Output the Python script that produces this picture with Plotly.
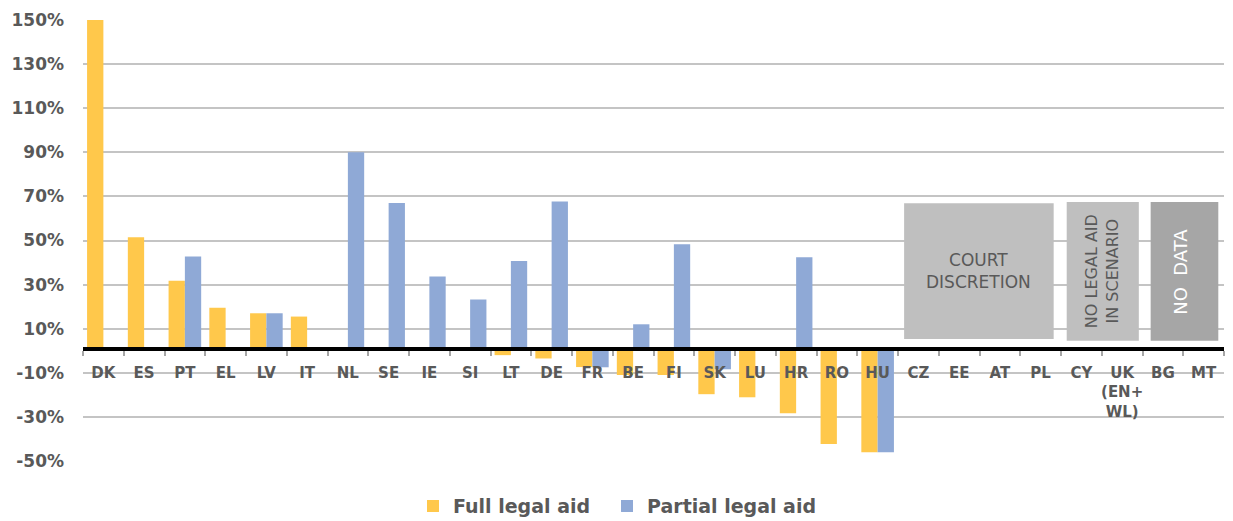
import plotly.graph_objects as go

categories = ["DK", "ES", "PT", "EL", "LV", "IT", "NL", "SE", "IE", "SI", "LT", "DE", "FR", "BE",
              "FI", "SK", "LU", "HR", "RO", "HU", "CZ", "EE", "AT", "PL", "CY", "UK<br>(EN+<br>WL)", "BG", "MT"]
full_legal_aid = [150, 51.5, 31.7, 19.5, 17, 15.5, None, None, None, None, -2, -3.5, -7.4, -11,
                  -11, -19.7, -21.1, -28.3, -42.3, -46, None, None, None, None, None, None, None, None]
partial_legal_aid = [None, None, 42.8, None, 17, None, 90, 67, 33.7, 23.2, 40.7, 67.7, -7.5, 12,
                     48.3, -8.4, None, 42.4, None, -46, None, None, None, None, None, None, None, None]
y_tick_values = [-50, -30, -10, 10, 30, 50, 70, 90, 110, 130, 150]
y_tick_labels = ["-50%", "-30%", "-10%", "10%", "30%", "50%", "70%", "90%", "110%", "130%", "150%"]

FONT = "DejaVu Sans"
TXT = "#595959"

fig = go.Figure()
fig.add_trace(go.Bar(x=categories, y=full_legal_aid, name="Full legal aid", legend="legend",
                     showlegend=True, marker=dict(color="#FFC84B", line=dict(width=0))))
fig.add_trace(go.Bar(x=categories, y=partial_legal_aid, name="Partial legal aid", legend="legend2",
                     showlegend=True, marker=dict(color="#8FA9D6", line=dict(width=0))))

# grey boxes
boxes = [
    (19.65, 23.32, 5.3, 66.9, "#BFBFBF"),
    (23.64, 25.41, 4.5, 67.5, "#BFBFBF"),
    (25.70, 27.36, 4.5, 67.5, "#A6A6A6"),
]
for x0, x1, y0, y1, col in boxes:
    fig.add_shape(type="rect", xref="x", yref="y", x0=x0, x1=x1, y0=y0, y1=y1,
                  fillcolor=col, line=dict(width=0), layer="above")

fig.add_annotation(x=(19.65 + 23.32) / 2, y=36, xref="x", yref="y", showarrow=False,
                   text="COURT<br>DISCRETION", font=dict(family=FONT, size=17, color=TXT))
fig.add_annotation(x=(23.64 + 25.41) / 2, y=36, xref="x", yref="y", showarrow=False, textangle=-90,
                   text="NO LEGAL AID<br>IN SCENARIO", font=dict(family=FONT, size=16, color=TXT))
fig.add_annotation(x=(25.70 + 27.36) / 2 - 0.1, y=36, xref="x", yref="y", showarrow=False, textangle=-90,
                   text="NO  DATA", font=dict(family=FONT, size=18, color="white"))

legend_common = dict(orientation="h", xref="container", yref="container", xanchor="left",
                     y=0.029, yanchor="middle", font=dict(family=FONT, size=19, color=TXT, weight="bold"),
                     itemwidth=30, bgcolor="rgba(0,0,0,0)")

fig.update_layout(
    width=1225, height=513,
    showlegend=True,
    margin=dict(l=75, r=9, t=12, b=60, autoexpand=False),
    paper_bgcolor="white", plot_bgcolor="white",
    barmode="group", bargap=0.2, bargroupgap=0,
    font=dict(family=FONT, color=TXT),
    legend=dict(x=0.3306, visible=True, **legend_common),
    legend2=dict(x=0.489, visible=True, **legend_common),
    xaxis=dict(type="category", range=[-0.5, 27.5], anchor="free", position=0.255,
               automargin=False, tickangle=0,
               showgrid=False, showline=True, linecolor="black", linewidth=4,
               ticks="outside", tickson="boundaries", ticklen=5, tickcolor="#A6A6A6", tickwidth=1.5,
               ticklabelstandoff=9,
               tickfont=dict(family=FONT, size=15, color=TXT, weight="bold")),
    yaxis=dict(range=[-50, 150], tickvals=y_tick_values, ticktext=y_tick_labels, automargin=False,
               showgrid=True, gridcolor="#C4C4C4", gridwidth=1.5, zeroline=False, showline=False,
               ticks="", ticklabelstandoff=18,
               tickfont=dict(family=FONT, size=17, color=TXT, weight="bold")),
)

fig.write_html("out.html")
